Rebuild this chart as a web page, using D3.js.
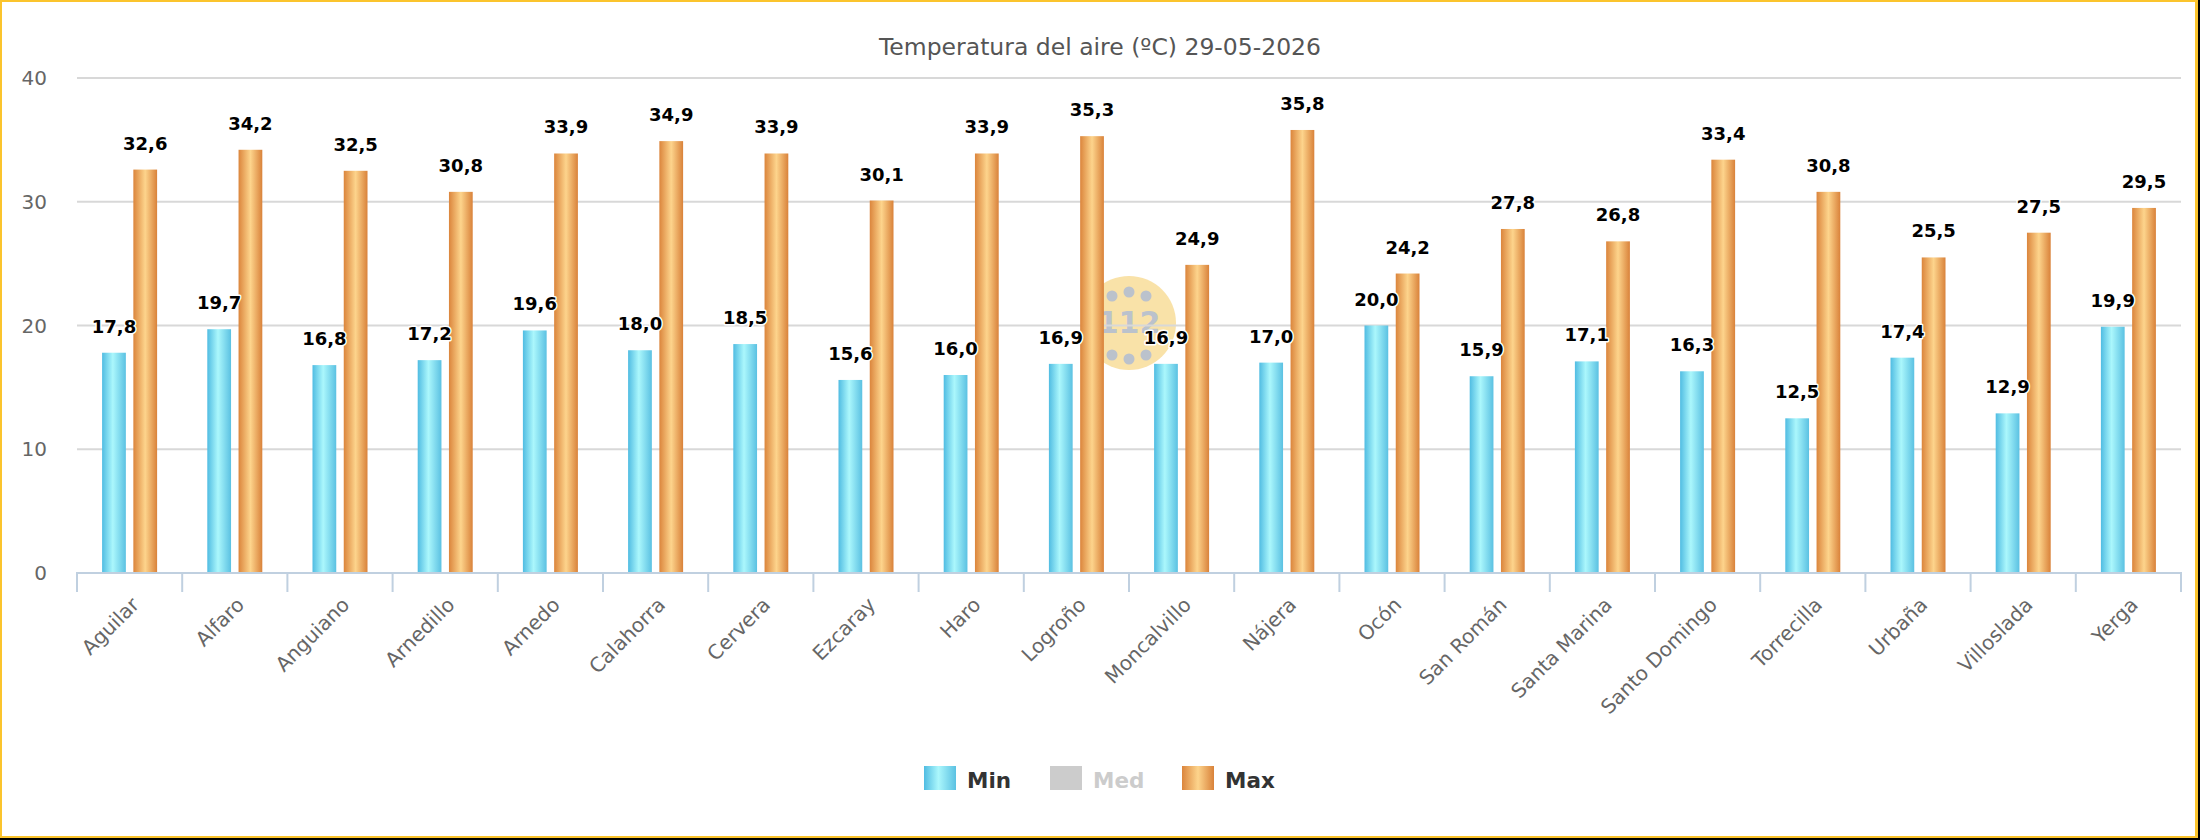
<!DOCTYPE html>
<html>
<head>
<meta charset="utf-8">
<script src="https://cdn.jsdelivr.net/npm/d3@7"></script>
<style>
  html, body { margin: 0; padding: 0; background: #000; }
  svg { display: block; }
</style>
</head>
<body>
<div id="chart"></div>
<script>
const estaciones = ["Aguilar", "Alfaro", "Anguiano", "Arnedillo", "Arnedo", "Calahorra", "Cervera", "Ezcaray", "Haro", "Logroño",
  "Moncalvillo", "Nájera", "Ocón", "San Román", "Santa Marina", "Santo Domingo", "Torrecilla", "Urbaña", "Villoslada", "Yerga"];
const tempMin = [17.8, 19.7, 16.8, 17.2, 19.6, 18.0, 18.5, 15.6, 16.0, 16.9, 16.9, 17.0, 20.0, 15.9, 17.1, 16.3, 12.5, 17.4, 12.9, 19.9];
const tempMax = [32.6, 34.2, 32.5, 30.8, 33.9, 34.9, 33.9, 30.1, 33.9, 35.3, 24.9, 35.8, 24.2, 27.8, 26.8, 33.4, 30.8, 25.5, 27.5, 29.5];
const series = ["Min", "Med", "Max"];
const seriesVisible = [true, false, true];
const yTicks = [0, 10, 20, 30, 40];
const titulo = "Temperatura del aire (ºC) 29-05-2026";

const width = 2200, height = 840;
const font = "'DejaVu Sans', Verdana, sans-serif";

const svg = d3.select("#chart").append("svg")
  .attr("width", width)
  .attr("height", height);

// marco amarillo
svg.append("rect").attr("width", width).attr("height", height).attr("fill", "#000");
svg.append("rect").attr("width", 2198).attr("height", 838).attr("fill", "#fbc42d");
svg.append("rect").attr("x", 2).attr("y", 2).attr("width", 2193).attr("height", 834).attr("fill", "#fff");

const defs = svg.append("defs");
function gradiente(id, stops) {
  const g = defs.append("linearGradient").attr("id", id)
    .attr("x1", "0%").attr("x2", "100%").attr("y1", "0%").attr("y2", "0%");
  stops.forEach(s => g.append("stop").attr("offset", s[0]).attr("stop-color", s[1]));
}
gradiente("gradMin", [["0%", "#50bce2"], ["45%", "#abf7fc"], ["100%", "#5bc1e2"]]);
gradiente("gradMax", [["0%", "#db853c"], ["50%", "#fdd48c"], ["100%", "#d9823a"]]);
const fills = { Min: "url(#gradMin)", Med: "#cccccc", Max: "url(#gradMax)" };

const plotLeft = 77, plotRight = 2181, plotTop = 78, plotBottom = 573;

const x = d3.scaleBand().domain(estaciones).range([plotLeft, plotRight]);
const xs = d3.scaleBand().domain(["Min", "Max"])
  .range([x.bandwidth() / 2 - 27.5, x.bandwidth() / 2 + 27.5])
  .paddingInner(0.24);
const y = d3.scaleLinear().domain([0, 40]).range([plotBottom, plotTop]);

const es = d3.formatLocale({ decimal: ",", thousands: ".", grouping: [3], currency: ["", "€"] });
const fmt = es.format(".1f");

// título
svg.append("text")
  .attr("x", 1100).attr("y", 55)
  .attr("text-anchor", "middle")
  .style("font-family", font).style("font-size", "23.5px")
  .attr("fill", "#555")
  .text(titulo);

// marca de agua 112
const wm = svg.append("g").attr("transform", "translate(1129,323)").attr("opacity", 0.6);
wm.append("circle").attr("r", 47).attr("fill", "#f6cf70");
[[-17, -27], [0, -31], [17, -27], [-17, 32], [0, 36], [17, 32]].forEach(p => {
  wm.append("circle").attr("cx", p[0]).attr("cy", p[1]).attr("r", 5.5).attr("fill", "#8f9aab");
});
wm.append("text").attr("y", 10).attr("text-anchor", "middle")
  .style("font-family", font).style("font-size", "30px").style("font-weight", "bold")
  .attr("fill", "#8f9aab").text("112");

// rejilla y eje Y
svg.append("g").selectAll("line")
  .data(yTicks.filter(t => t > 0))
  .join("line")
  .attr("x1", plotLeft).attr("x2", plotRight)
  .attr("y1", d => y(d)).attr("y2", d => y(d))
  .attr("stroke", "#d8d8d8").attr("stroke-width", 2);

svg.append("g").selectAll("text")
  .data(yTicks)
  .join("text")
  .attr("x", 47).attr("y", d => y(d) + 7)
  .attr("text-anchor", "end")
  .style("font-family", font).style("font-size", "20px")
  .attr("fill", "#666")
  .text(d => d);

// barras
const grupos = svg.append("g").selectAll("g")
  .data(estaciones)
  .join("g")
  .attr("transform", d => `translate(${x(d)},0)`);

grupos.selectAll("rect")
  .data((d, i) => [{ s: "Min", v: tempMin[i] }, { s: "Max", v: tempMax[i] }])
  .join("rect")
  .attr("x", d => xs(d.s))
  .attr("width", xs.bandwidth())
  .attr("y", d => y(d.v))
  .attr("height", d => y(0) - y(d.v))
  .attr("fill", d => fills[d.s]);

// eje X
const ejeX = svg.append("g");
ejeX.append("line")
  .attr("x1", plotLeft - 1).attr("x2", plotRight + 1)
  .attr("y1", plotBottom).attr("y2", plotBottom)
  .attr("stroke", "#c0d0e0").attr("stroke-width", 2);
ejeX.selectAll("line.tick")
  .data(estaciones.map(d => x(d)).concat([plotRight]))
  .join("line")
  .attr("class", "tick")
  .attr("x1", d => d).attr("x2", d => d)
  .attr("y1", plotBottom).attr("y2", plotBottom + 19)
  .attr("stroke", "#c0d0e0").attr("stroke-width", 2);
ejeX.selectAll("text")
  .data(estaciones)
  .join("text")
  .attr("transform", d => `translate(${x(d) + x.bandwidth() / 2 + 10.7},606) rotate(-45)`)
  .attr("text-anchor", "end")
  .style("font-family", font).style("font-size", "20px")
  .attr("fill", "#666")
  .text(d => d);

// etiquetas de valores
grupos.selectAll("text")
  .data((d, i) => [{ s: "Min", v: tempMin[i] }, { s: "Max", v: tempMax[i] }])
  .join("text")
  .attr("x", d => xs(d.s) + xs.bandwidth() / 2)
  .attr("y", d => y(d.v) - 20)
  .attr("text-anchor", "middle")
  .style("font-family", font).style("font-size", "18px").style("font-weight", "bold")
  .attr("fill", "#000")
  .attr("stroke", "#fff").attr("stroke-width", 3).attr("stroke-linejoin", "round")
  .style("paint-order", "stroke")
  .text(d => fmt(d.v));

// leyenda
const leyendaX = [924, 1050, 1182];
const leyenda = svg.append("g").selectAll("g")
  .data(series)
  .join("g")
  .attr("transform", (d, i) => `translate(${leyendaX[i]},766)`);
leyenda.append("rect")
  .attr("width", 32).attr("height", 24)
  .attr("fill", (d, i) => seriesVisible[i] ? fills[d] : "#cccccc");
leyenda.append("text")
  .attr("x", 43).attr("y", 22)
  .style("font-family", font).style("font-size", "21.5px").style("font-weight", "bold")
  .attr("fill", (d, i) => seriesVisible[i] ? "#333" : "#cccccc")
  .text(d => d);
</script>
</body>
</html>
